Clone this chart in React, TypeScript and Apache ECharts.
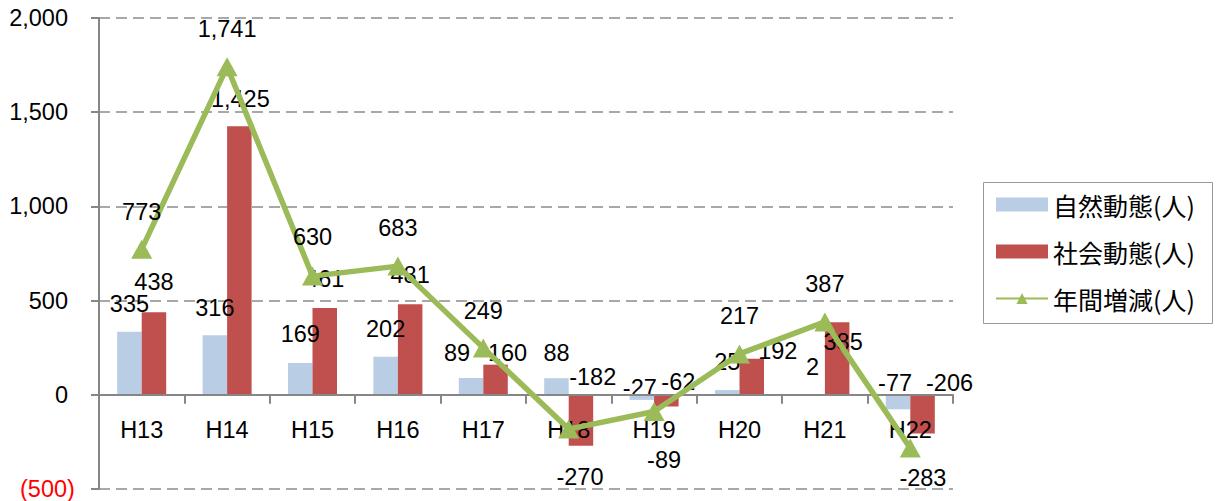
import React, { useEffect, useRef } from "react";
import * as echarts from "echarts";

const categories = ["H13", "H14", "H15", "H16", "H17", "H18", "H19", "H20", "H21", "H22"];
const naturalChange = [335, 316, 169, 202, 89, 88, -27, 25, 2, -77];
const socialChange = [438, 1425, 461, 481, 160, -270, -62, 192, 385, -206];
const annualChange = [773, 1741, 630, 683, 249, -182, -89, 217, 387, -283];
const seriesNames = ["自然動態(人)", "社会動態(人)", "年間増減(人)"];
const yMin = -500;
const yMax = 2000;
const yInterval = 500;

// label placement tweaks (style only)
const naturalLabelPos = ["top", "top", "top", "top", "top", "top", "top", "top", "top", "top"];
const naturalLabelOffsets = [[0, -10.5], [0, -10], [0, -12], [0, -10.5], [-14, -8], [0, -8], [-2, 10.5], [0, -11], [0, -10], [-3, 5.5]];
const socialLabelPos = ["top", "top", "top", "top", "top", "bottom", "top", "top", "top", "top"];
const socialLabelOffsets = [[0, -13], [1, -10], [0, -12], [0, -12], [12, 5.5], [-1, 14], [12, 4.5], [26, 9.5], [6, 37], [27, 5.5]];
const annualLabelPos = ["top", "top", "top", "top", "top", "top", "bottom", "top", "top", "bottom"];
const annualLabelOffsets = [[0, -11], [0, -11], [0, -13], [0, -12], [0, -10.5], [24, -26], [10, 22], [0, -11.5], [0, -11.5], [12.6, 3]];

const FONT = "'Liberation Sans', Arial, sans-serif";
const CJK = "'Noto Sans CJK JP', sans-serif";
const FS = 23.5;

function withLabels(values: number[], pos: string[], offs: number[][]) {
  return values.map((v, i) => ({
    value: v,
    label: { position: pos[i], offset: offs[i] },
  }));
}

export default function App() {
  const ref = useRef<HTMLDivElement>(null);
  useEffect(() => {
    if (!ref.current) return;
    const chart = echarts.init(ref.current, undefined, { renderer: "svg" });
    const labelBase = {
      show: true,
      color: "#000",
      fontSize: FS,
      fontFamily: FONT,
      distance: 5,
      formatter: (p: any) => Number(p.value).toLocaleString("en-US"),
    };
    chart.setOption({
      animation: false,
      backgroundColor: "#fff",
      grid: { left: 99, right: 264, top: 18, bottom: 12, containLabel: false, outerBoundsMode: "none" },
      xAxis: {
        type: "category",
        data: categories,
        axisLine: { show: true, onZero: true, lineStyle: { color: "#868686", width: 2 } },
        axisTick: { show: true, length: 9, lineStyle: { color: "#868686", width: 2 } },
        axisLabel: { color: "#000", fontSize: FS, fontFamily: FONT, margin: -71 },
        splitLine: { show: false },
        z: 3,
      },
      yAxis: {
        type: "value",
        min: yMin,
        max: yMax,
        interval: yInterval,
        axisLine: { show: true, lineStyle: { color: "#868686", width: 2 } },
        axisTick: { show: true, length: 8, lineStyle: { color: "#868686", width: 2 } },
        axisLabel: {
          fontSize: FS,
          fontFamily: FONT,
          margin: 31,
          color: "#000",
          formatter: (v: number) => (v < 0 ? `{neg|(${Math.abs(v)})}` : v.toLocaleString("en-US")),
          rich: {
            neg: { color: "#FF0000", fontSize: FS, fontFamily: FONT, width: 48, align: "left" },
          },
        },
        splitLine: { show: true, lineStyle: { color: "#8c8c8c", width: 1.5, type: [11, 6] } },
      },
      legend: {
        orient: "vertical",
        left: 995,
        top: 192,
        padding: 0,
        itemWidth: 52,
        itemHeight: 14,
        itemGap: 22,
        textStyle: { fontSize: 25, fontFamily: CJK, color: "#000" },
        data: [
          { name: seriesNames[0], icon: "rect" },
          { name: seriesNames[1], icon: "rect" },
          { name: seriesNames[2] },
        ],
      },
      graphic: [
        {
          type: "rect",
          shape: { x: 983.5, y: 182.5, width: 229, height: 141 },
          style: { fill: "none", stroke: "#999", lineWidth: 1 },
        },
      ],
      series: [
        {
          name: seriesNames[0],
          type: "bar",
          barWidth: 24.5,
          barGap: "0%",
          itemStyle: { color: "#B9CDE5" },
          label: labelBase,
          data: withLabels(naturalChange, naturalLabelPos, naturalLabelOffsets),
          z: 2,
        },
        {
          name: seriesNames[1],
          type: "bar",
          barWidth: 24.5,
          barGap: "0%",
          itemStyle: { color: "#C0504D" },
          label: labelBase,
          data: withLabels(socialChange, socialLabelPos, socialLabelOffsets),
          z: 2,
        },
        {
          name: seriesNames[2],
          type: "line",
          symbol: "triangle",
          symbolSize: [21, 19],
          lineStyle: { color: "#9BBB59", width: 5.5 },
          itemStyle: { color: "#9BBB59" },
          label: labelBase,
          data: withLabels(annualChange, annualLabelPos, annualLabelOffsets),
          z: 4,
        },
      ],
    });
    return () => chart.dispose();
  }, []);
  return <div ref={ref} style={{ position: "fixed", left: 0, top: 0, width: 1217, height: 501 }} />;
}
